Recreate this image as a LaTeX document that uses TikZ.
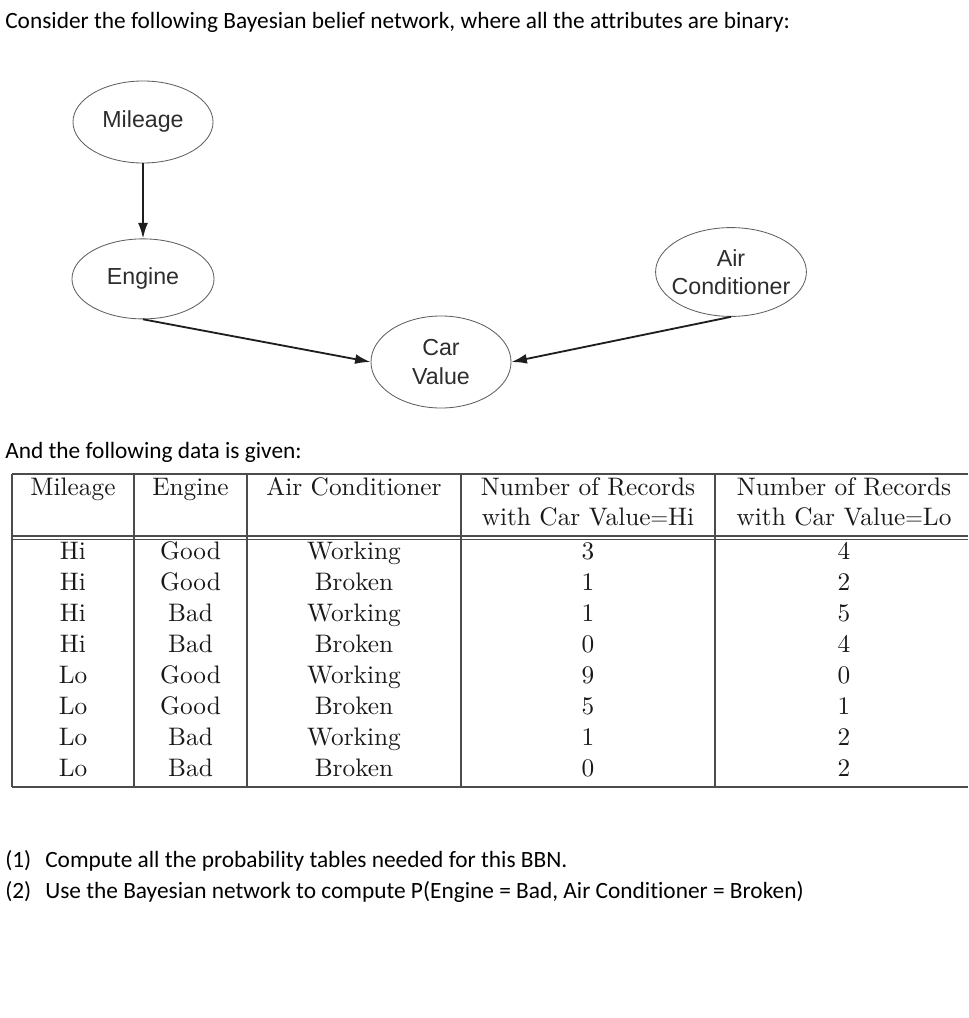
\documentclass[tikz,border=0pt]{standalone}
\usepackage{fontspec}
\newfontfamily\carlito[Ligatures=NoCommon]{Carlito}
\newfontfamily\helv{Liberation Sans}
\newfontfamily\tabfont{lmroman10-regular}[Extension=.otf]
\usepackage{tikz}
\usetikzlibrary{shapes.geometric, arrows.meta, positioning}
\definecolor{mydark}{RGB}{30,30,30}
\definecolor{mygray}{RGB}{95,95,95}
\definecolor{mytext}{RGB}{45,45,45}
\tikzset{
  bnode/.style={ellipse, draw=mygray, line width=0.6pt, text=mytext,
    align=center, inner sep=0pt, font=\helv\fontsize{16.5}{20}\selectfont},
  arrow/.style={-{Latex[length=11pt, width=7pt]}, line width=1.3pt, color=mydark},
  body/.style={anchor=base west, inner sep=0pt, font=\carlito\fontsize{16.6}{20}\selectfont},
  cell/.style={anchor=base, inner sep=0pt, font=\tabfont\fontsize{18}{22}\selectfont, text=black!90},
  rule/.style={line width=1.1pt, color=black!70}
}
\begin{document}
\begin{tikzpicture}[x=0.025cm, y=-0.025cm, node distance=1.8cm]
  \useasboundingbox (0,0) rectangle (968,1018);

  \node [body] (intro) at (5,29) {Consider the following Bayesian belief network, where all the attributes are binary:};

  % the network
  \node [bnode, minimum width=3.5cm, minimum height=2.05cm] (mileage) at (143,122) {Mileage};
  \node [bnode, minimum width=3.55cm, minimum height=2cm, below=1.875cm of mileage] (engine) {Engine};
  \node [bnode, minimum width=3.5cm, minimum height=2.3cm] (car) at (441,362) {Car\\Value};
  \node [bnode, minimum width=3.75cm, minimum height=2.22cm, inner xsep=-0.15cm] (air) at (731,272) {Air\\Conditioner};

  \draw [arrow] (mileage) -- (engine);
  \draw [arrow] (engine.south) -- (car.west);
  \draw [arrow] (air.south) -- (car.east);

  \node [body] (given) at (5,458) {And the following data is given:};

  % the table
  \draw [rule] (12,474) -- (968,474);
  \draw [rule] (12,536) -- (968,536);
  \draw [rule] (12,539.5) -- (968,539.5);
  \draw [rule] (12,787) -- (968,787);
  \foreach \x in {12,134,247,461,715}
    \draw [rule] (\x,474) -- (\x,787);

  \node [cell] (hmil) at (73,495) {Mileage};
  \node [cell] (heng) at (190.5,495) {Engine};
  \node [cell] (hair) at (354,495) {Air Conditioner};
  \node [cell] (hhi) at (588,495) {Number of Records};
  \node [cell] (hhi2) at (588,525) {with Car Value$=$Hi};
  \node [cell] (hlo) at (844,495) {Number of Records};
  \node [cell] (hlo2) at (844,525) {with Car Value$=$Lo};

  \foreach \m/\e/\a/\h/\l [count=\i] in {Hi/Good/Working/3/4, Hi/Good/Broken/1/2,
      Hi/Bad/Working/1/5, Hi/Bad/Broken/0/4, Lo/Good/Working/9/0, Lo/Good/Broken/5/1,
      Lo/Bad/Working/1/2, Lo/Bad/Broken/0/2} {
    \node [cell] (mil\i) at (73,528+31*\i) {\m};
    \node [cell] (eng\i) at (190.5,528+31*\i) {\e};
    \node [cell] (air\i) at (354,528+31*\i) {\a};
    \node [cell] (hi\i) at (588,528+31*\i) {\h};
    \node [cell] (lo\i) at (844,528+31*\i) {\l};
  }

  % the questions
  \node [body] (n1) at (5,867) {(1)};
  \node [body] (q1) at (45,867) {Compute all the probability tables needed for this BBN.};
  \node [body] (n2) at (5,898) {(2)};
  \node [body] (q2) at (45,898) {Use the Bayesian network to compute P(Engine = Bad, Air Conditioner = Broken)};
\end{tikzpicture}
\end{document}
